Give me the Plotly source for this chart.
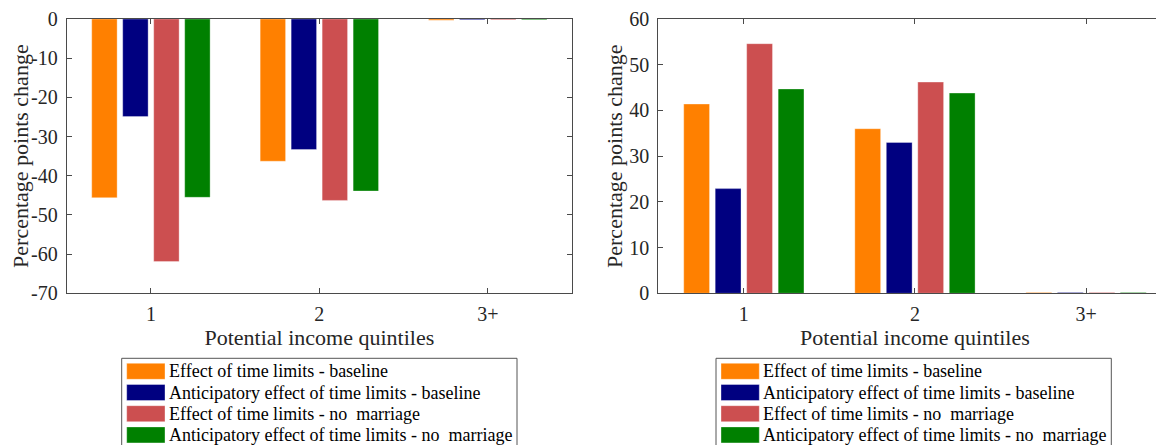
import plotly.graph_objects as go

# ---------------- data ----------------
categories = ["1", "2", "3+"]
series_names = [
    "Effect of time limits - baseline",
    "Anticipatory effect of time limits - baseline",
    "Effect of time limits - no\u00a0 marriage",
    "Anticipatory effect of time limits - no\u00a0 marriage",
]
series_colors = ["#FF8000", "#000080", "#CC4F50", "#008000"]

left_effect_baseline = [-45.6, -36.3, -0.3]
left_anticip_baseline = [-24.9, -33.3, -0.2]
left_effect_nomarriage = [-61.9, -46.3, -0.2]
left_anticip_nomarriage = [-45.5, -43.9, -0.2]

right_effect_baseline = [41.4, 36.0, 0.2]
right_anticip_baseline = [22.9, 33.0, 0.2]
right_effect_nomarriage = [54.6, 46.2, 0.15]
right_anticip_nomarriage = [44.7, 43.8, 0.15]

left_ticks = [0, -10, -20, -30, -40, -50, -60, -70]
left_ticklabels = ["0", "-10", "-20", "-30", "-40", "-50", "-60", "-70"]
right_ticks = [0, 10, 20, 30, 40, 50, 60]
right_ticklabels = ["0", "10", "20", "30", "40", "50", "60"]

x_title = "Potential income quintiles"
y_title = "Percentage points change"

# ---------------- layout constants ----------------
W, H = 1164, 445
OFF = 8  # the page body offsets the figure by 8px
FONT = "Liberation Serif, Times New Roman, DejaVu Serif, serif"
AXCOL = "#4a4a4a"
TXTCOL = "#262626"

def px_x(p):
    return (p - OFF) / W

def px_y(p):
    return 1 - (p - OFF) / H

left_series = [left_effect_baseline, left_anticip_baseline,
               left_effect_nomarriage, left_anticip_nomarriage]
right_series = [right_effect_baseline, right_anticip_baseline,
                right_effect_nomarriage, right_anticip_nomarriage]

fig = go.Figure()
for name, col, vals in zip(series_names, series_colors, left_series):
    fig.add_trace(go.Bar(x=categories, y=vals, name=name, marker_color=col,
                         marker_line=dict(width=0.6, color="rgba(255,255,255,0.55)"),
                         xaxis="x", yaxis="y", showlegend=False))
for name, col, vals in zip(series_names, series_colors, right_series):
    fig.add_trace(go.Bar(x=categories, y=vals, name=name, marker_color=col,
                         marker_line=dict(width=0.6, color="rgba(255,255,255,0.55)"),
                         xaxis="x2", yaxis="y2", showlegend=False))

common_x = dict(type="category", categoryorder="array", categoryarray=categories,
                showline=True, linecolor=AXCOL, linewidth=1, ticks="inside",
                ticklen=5, tickcolor=AXCOL, showgrid=False, zeroline=False,
                automargin=False,
                tickfont=dict(family=FONT, size=20, color=TXTCOL),
                ticklabelstandoff=3,
                title=dict(text=x_title, font=dict(family=FONT, size=22, color=TXTCOL),
                           standoff=4))
common_y = dict(showline=True, linecolor=AXCOL, linewidth=1, ticks="inside",
                ticklen=5, tickcolor=AXCOL, showgrid=False, zeroline=False,
                automargin=False,
                tickfont=dict(family=FONT, size=20, color=TXTCOL),
                ticklabelstandoff=4,
                title=dict(text=y_title, font=dict(family=FONT, size=22, color=TXTCOL),
                           standoff=0))

ydom = [px_y(293.3), px_y(19)]
left_x0, left_x1 = 66.7, 572.0
right_x0, right_x1 = 658.3, 1171.6

fig.update_layout(
    width=W, height=H,
    margin=dict(l=0, r=0, t=0, b=0, autoexpand=False),
    paper_bgcolor="white", plot_bgcolor="white",
    font=dict(family=FONT),
    barmode="group", bargap=0.264, bargroupgap=0.18,
    xaxis=dict(common_x, domain=[px_x(left_x0), px_x(left_x1)], anchor="y",
               range=[-0.5, 2.5], mirror="ticks"),
    yaxis=dict(common_y, domain=ydom, anchor="x", range=[-70, 0],
               tickvals=left_ticks, ticktext=left_ticklabels, mirror="ticks"),
    xaxis2=dict(common_x, domain=[px_x(right_x0), px_x(right_x1)], anchor="y2",
                range=[-0.5, 2.5], mirror="ticks"),
    yaxis2=dict(common_y, domain=ydom, anchor="x2", range=[0, 60],
                tickvals=right_ticks, ticktext=right_ticklabels, mirror="ticks"),
    showlegend=False,
)

# ---------------- manual legends (MATLAB style) ----------------
shapes = []
annotations = []
legend_w = 395.3
for panel_left in (121.7, 716.0):
    box_top = 358.3
    shapes.append(dict(type="rect", xref="paper", yref="paper",
                       x0=px_x(panel_left), x1=px_x(panel_left + legend_w),
                       y0=px_y(box_top), y1=px_y(box_top + 90),
                       line=dict(color="#555555", width=1), fillcolor="white",
                       layer="below"))
    for i, (name, col) in enumerate(zip(series_names, series_colors)):
        top = 363.3 + i * 21.2
        shapes.append(dict(type="rect", xref="paper", yref="paper",
                           x0=px_x(panel_left + 5), x1=px_x(panel_left + 43.3),
                           y0=px_y(top), y1=px_y(top + 16),
                           line=dict(color="rgba(255,255,255,0.6)", width=0.6),
                           fillcolor=col))
        annotations.append(dict(xref="paper", yref="paper",
                                x=px_x(panel_left + 45), y=px_y(top + 8),
                                xanchor="left", yanchor="middle", showarrow=False,
                                text=name, font=dict(family=FONT, size=18, color="black")))

fig.update_layout(shapes=shapes, annotations=annotations)

fig.write_html("out.html")
